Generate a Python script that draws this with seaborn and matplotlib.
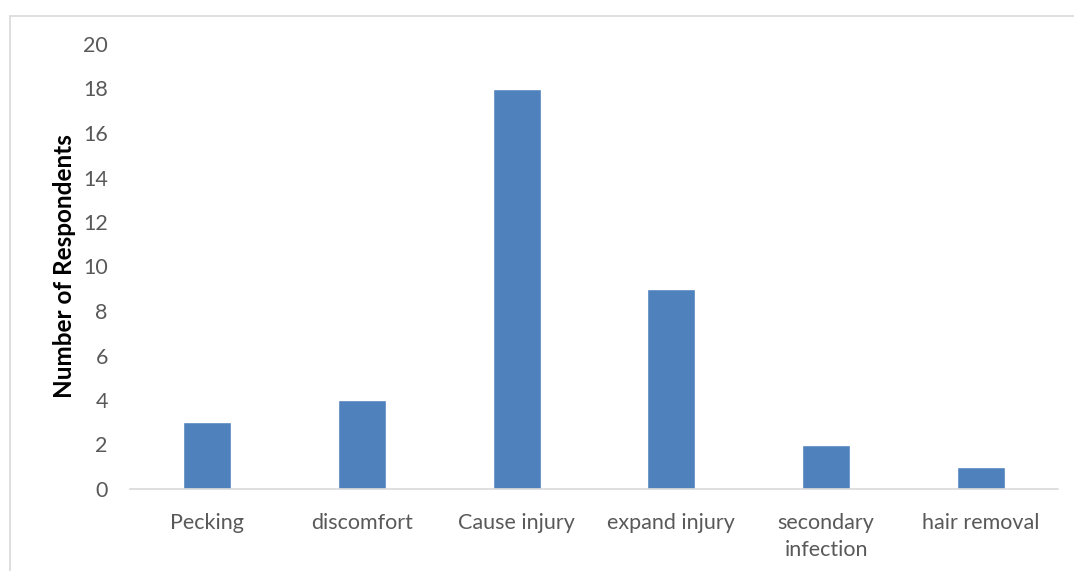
import matplotlib
matplotlib.use("Agg")
import matplotlib.pyplot as plt
from matplotlib.patches import Rectangle
import seaborn as sns
import pandas as pd

categories = ["Pecking", "discomfort", "Cause injury", "expand injury",
              "secondary\ninfection", "hair removal"]
respondents = [3, 4, 18, 9, 2, 1]
y_ticks = [0, 2, 4, 6, 8, 10, 12, 14, 16, 18, 20]

sns.set_theme(style="white")
plt.rcParams["font.family"] = ["Lato", "DejaVu Sans"]

df = pd.DataFrame({"category": categories, "count": respondents})

fig = plt.figure(figsize=(10.74, 5.71), dpi=100)
ax = fig.add_axes([130 / 1074, 1 - 489 / 571, 928 / 1074, 445 / 571])

sns.barplot(data=df, x="category", y="count", color="#4F81BD",
            saturation=1, width=0.31, ax=ax)

ax.set_xlim(-0.5, len(categories) - 0.5)
ax.set_ylim(0, 20)
ax.set_yticks(y_ticks)
ax.set_yticklabels([str(t) for t in y_ticks])

for side in ("top", "right", "left"):
    ax.spines[side].set_visible(False)
ax.spines["bottom"].set_color("#D9D9D9")
ax.spines["bottom"].set_linewidth(1.2)

ax.tick_params(axis="y", length=0, pad=16, labelsize=15.5, labelcolor="#595959")
ax.tick_params(axis="x", length=0, pad=17, labelsize=15.5, labelcolor="#595959")
for lbl in ax.get_xticklabels():
    lbl.set_linespacing(1.45)

ax.set_xlabel("")
ax.set_ylabel("Number of Respondents", fontsize=17.5, fontweight="bold",
              color="black", labelpad=5)

# chart area border
fig.patches.append(Rectangle((9.5 / 1074, -0.1), 1.2, 1.1 - 15.5 / 571,
                             transform=fig.transFigure, fill=False,
                             edgecolor="#D9D9D9", linewidth=1.2))

fig.savefig("out.png", dpi=100)
